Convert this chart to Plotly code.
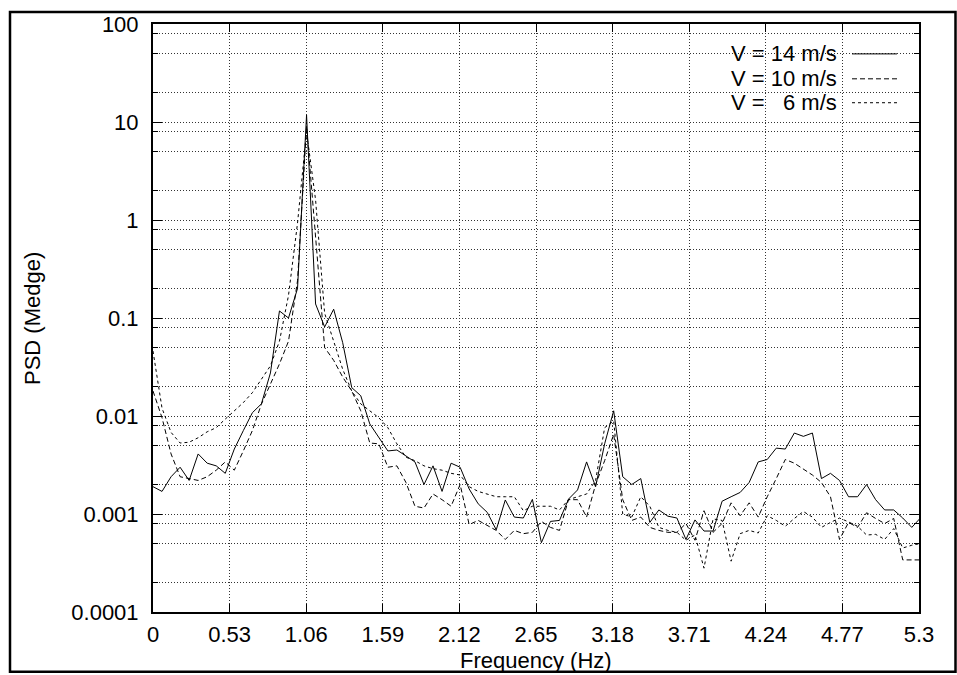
import plotly.graph_objects as go

# Frequency bins (Hz)
freq_hz = [0.0, 0.0625, 0.125, 0.1875, 0.25, 0.3125, 0.375, 0.4375, 0.5, 0.5625,
           0.625, 0.6875, 0.75, 0.8125, 0.875, 0.9375, 1.0, 1.0625, 1.125, 1.1875,
           1.25, 1.3125, 1.375, 1.4375, 1.5, 1.5625, 1.625, 1.6875, 1.75, 1.8125,
           1.875, 1.9375, 2.0, 2.0625, 2.125, 2.1875, 2.25, 2.3125, 2.375, 2.4375,
           2.5, 2.5625, 2.625, 2.6875, 2.75, 2.8125, 2.875, 2.9375, 3.0, 3.0625,
           3.125, 3.1875, 3.25, 3.3125, 3.375, 3.4375, 3.5, 3.5625, 3.625, 3.6875,
           3.75, 3.8125, 3.875, 3.9375, 4.0, 4.0625, 4.125, 4.1875, 4.25, 4.3125,
           4.375, 4.4375, 4.5, 4.5625, 4.625, 4.6875, 4.75, 4.8125, 4.875, 4.9375,
           5.0, 5.0625, 5.125, 5.1875, 5.25, 5.3125]

psd_14 = [0.0019, 0.0017, 0.0024, 0.0030, 0.0022, 0.0041, 0.0033, 0.0031, 0.0026, 0.0046,
          0.0071, 0.0108, 0.0133, 0.0275, 0.118, 0.10, 0.20, 11.8, 0.139, 0.081,
          0.123, 0.056, 0.0195, 0.0161, 0.0083, 0.0060, 0.0044, 0.0045, 0.0039, 0.0034,
          0.0020, 0.0031, 0.0017, 0.0033, 0.0030, 0.0018, 0.00127, 0.00104, 0.00069, 0.00139,
          0.00093, 0.00091, 0.00141, 0.00051, 0.00084, 0.00086, 0.00142, 0.00176, 0.0034, 0.0019,
          0.0052, 0.0113, 0.0024, 0.0020, 0.0023, 0.00082, 0.0011, 0.00095, 0.00091, 0.00055,
          0.00087, 0.00067, 0.00067, 0.00135, 0.0015, 0.00166, 0.0021, 0.0034, 0.0036, 0.0047,
          0.0046, 0.0067, 0.0062, 0.0067, 0.0023, 0.0026, 0.0022, 0.0015, 0.0015, 0.0020,
          0.0014, 0.0011, 0.0011, 0.00091, 0.00073, 0.00092]

psd_10 = [0.018, 0.0096, 0.0041, 0.0024, 0.0023, 0.0022, 0.0024, 0.0028, 0.0034, 0.0028,
          0.0044, 0.0071, 0.0132, 0.021, 0.034, 0.058, 0.24, 9.0, 0.66, 0.050,
          0.037, 0.025, 0.018, 0.0113, 0.0053, 0.0052, 0.0030, 0.0031, 0.0021, 0.0012,
          0.00115, 0.0016, 0.0014, 0.0012, 0.0020, 0.00078, 0.00086, 0.00076, 0.00068, 0.00055,
          0.00068, 0.00063, 0.00065, 0.00084, 0.00073, 0.00068, 0.0014, 0.0014, 0.00093, 0.0020,
          0.0035, 0.0065, 0.0014, 0.00086, 0.00093, 0.00073, 0.00068, 0.00065, 0.00065, 0.0008,
          0.00054, 0.00108, 0.00065, 0.0008, 0.0013, 0.00096, 0.0013, 0.00093, 0.0015, 0.0023,
          0.0036, 0.0033, 0.0029, 0.0025, 0.0021, 0.0015, 0.00055, 0.00082, 0.00073, 0.00103,
          0.0009, 0.0008, 0.0009, 0.00034, 0.00034, 0.00034]

psd_6 = [0.046, 0.012, 0.0068, 0.0053, 0.0054, 0.0060, 0.0069, 0.0076, 0.0093, 0.0113,
         0.0137, 0.0173, 0.024, 0.0325, 0.058, 0.17, 0.93, 8.0, 1.6, 0.112,
         0.058, 0.030, 0.018, 0.0133, 0.0113, 0.0096, 0.0076, 0.0052, 0.0038, 0.0035,
         0.0031, 0.0029, 0.0028, 0.0026, 0.0025, 0.0019, 0.0017, 0.0016, 0.0015, 0.0015,
         0.0015, 0.00108, 0.0012, 0.0012, 0.0012, 0.0011, 0.0014, 0.0015, 0.0016, 0.0022,
         0.0076, 0.0089, 0.0010, 0.00093, 0.0015, 0.0012, 0.00073, 0.00068, 0.00065, 0.00054,
         0.00061, 0.00028, 0.00089, 0.00086, 0.00033, 0.00063, 0.00068, 0.00064, 0.00096, 0.00086,
         0.00075, 0.0009, 0.00106, 0.00093, 0.00073, 0.00082, 0.00091, 0.00083, 0.00075, 0.00061,
         0.00062, 0.00055, 0.00071, 0.00045, 0.00048, 0.0005]

x_tickvals = [0, 0.53, 1.06, 1.59, 2.12, 2.65, 3.18, 3.71, 4.24, 4.77, 5.3]
x_ticktext = ["0", "0.53", "1.06", "1.59", "2.12", "2.65", "3.18", "3.71", "4.24", "4.77", "5.3"]
y_tickvals = [1e-4, 1e-3, 1e-2, 1e-1, 1, 10, 100]
y_ticktext = ["0.0001", "0.001", "0.01", "0.1", "1", "10", "100"]
y_minorvals = [m * d for d in [1e-4, 1e-3, 1e-2, 1e-1, 1, 10] for m in (2, 5, 8)]

series_names = ["V = 14 m/s", "V = 10 m/s", "V =\u00a0\u00a0\u00a06 m/s"]
series_data = [psd_14, psd_10, psd_6]
series_dash = ["solid", "5px,3px", "3px,3px"]

FONT = "Liberation Sans, Arial, Helvetica, sans-serif"
FS = 22
GRID = "#333333"
GDASH = "1px,2px"

fig = go.Figure()
for name, ys, dash in zip(series_names, series_data, series_dash):
    fig.add_trace(go.Scatter(x=freq_hz, y=ys, mode="lines", name=name,
                             line=dict(color="black", width=1, dash=dash),
                             showlegend=False))

W, H = 957, 675
ML, MR, MT, MB = 153, 38, 22, 63
PW, PH = W - ML - MR, H - MT - MB


def px(xp):
    return (xp - ML) / PW


def py(yp):
    return (H - MB - yp) / PH


shapes = [dict(type="rect", xref="paper", yref="paper",
               x0=px(10), x1=px(955.5), y0=py(672), y1=py(10),
               line=dict(color="black", width=2.5), fillcolor="rgba(0,0,0,0)")]
annotations = []
legend_rows = [52, 77, 101]
for name, dash, ry in zip(series_names, series_dash, legend_rows):
    annotations.append(dict(text=name, xref="paper", yref="paper", x=px(839), y=py(ry),
                            xanchor="right", yanchor="middle", showarrow=False,
                            font=dict(family=FONT, size=FS, color="black")))
    shapes.append(dict(type="line", xref="paper", yref="paper",
                       x0=px(852), x1=px(897), y0=py(ry), y1=py(ry),
                       line=dict(color="black", width=1, dash=dash)))

annotations.append(dict(text="Frequency (Hz)", xref="paper", yref="paper", x=0.5, y=py(661),
                        xanchor="center", yanchor="middle", showarrow=False,
                        font=dict(family=FONT, size=FS, color="black")))
annotations.append(dict(text="PSD (Medge)", xref="paper", yref="paper", x=px(32), y=0.5,
                        xanchor="center", yanchor="middle", showarrow=False, textangle=-90,
                        font=dict(family=FONT, size=FS, color="black")))

fig.update_layout(
    width=W, height=H,
    margin=dict(l=ML, r=MR, t=MT, b=MB, pad=0),
    paper_bgcolor="white", plot_bgcolor="white",
    font=dict(family=FONT, size=FS, color="black"),
    shapes=shapes, annotations=annotations,
    xaxis=dict(range=[0, 5.3], tickmode="array", tickvals=x_tickvals, ticktext=x_ticktext,
               ticks="inside", ticklen=8, tickwidth=1, tickcolor="black",
               showline=True, linecolor="black", linewidth=2, mirror="allticks",
               showgrid=True, gridcolor=GRID, griddash=GDASH, gridwidth=1,
               zeroline=False, ticklabelstandoff=2,
               tickfont=dict(family=FONT, size=FS, color="black")),
    yaxis=dict(type="log", range=[-4, 2], tickmode="array", tickvals=y_tickvals,
               ticktext=y_ticktext,
               ticks="inside", ticklen=9, tickwidth=1, tickcolor="black",
               showline=True, linecolor="black", linewidth=2, mirror="allticks",
               showgrid=True, gridcolor=GRID, griddash=GDASH, gridwidth=1,
               zeroline=False, ticklabelstandoff=8,
               tickfont=dict(family=FONT, size=FS, color="black"),
               minor=dict(tickmode="array", tickvals=y_minorvals, ticks="inside",
                          ticklen=5, tickwidth=1, tickcolor="black",
                          showgrid=True, gridcolor=GRID, griddash=GDASH, gridwidth=1)),
)

fig.write_html("out.html")
